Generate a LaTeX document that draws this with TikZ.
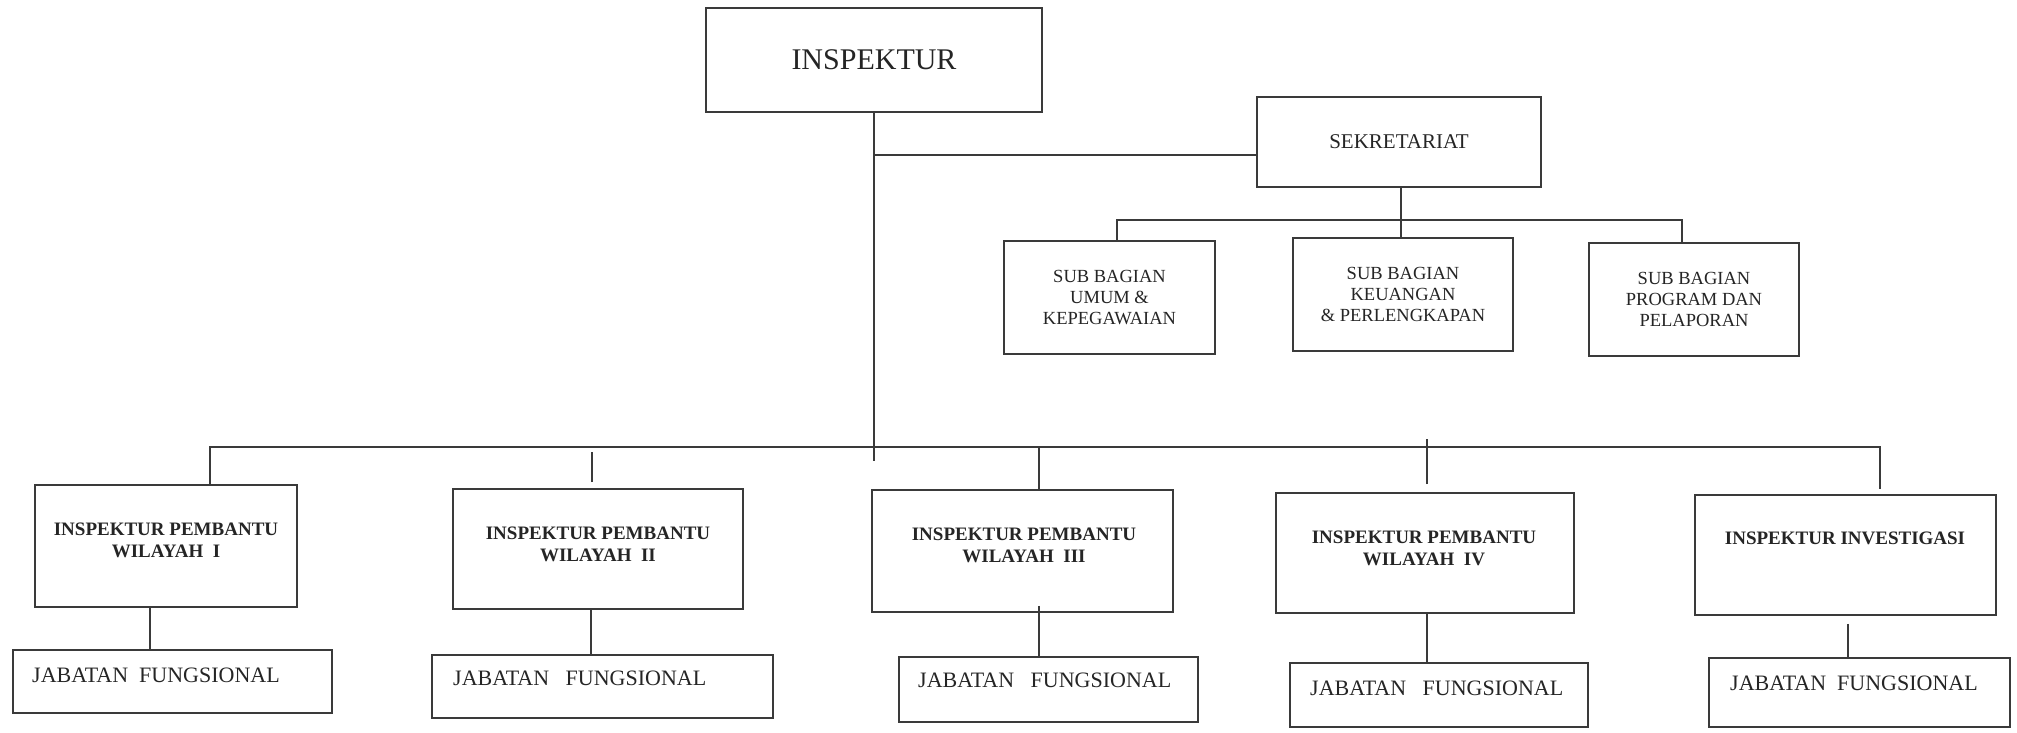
\documentclass[tikz,border=0pt]{standalone}
\usepackage{fontspec}
\setmainfont{Liberation Serif}
\definecolor{linec}{HTML}{3A3A3A}
\definecolor{txtc}{HTML}{252525}
\begin{document}
\begin{tikzpicture}[x=1pt,y=-1pt,
  box/.style={draw=linec, line width=1.8pt, rectangle, inner sep=0pt, text=txtc},
  conn/.style={draw=linec, line width=1.8pt},
  subtxt/.style={align=center, font=\fontsize{18.5}{21}\selectfont},
  btxt/.style={align=center, text=txtc, font=\bfseries\fontsize{19}{22}\selectfont},
  jtxt/.style={anchor=west, text=txtc, inner sep=0pt, font=\fontsize{22}{26}\selectfont}]
\useasboundingbox[fill=white] (0,0) rectangle (2017,732);

% top level
\node[box, minimum width=336pt, minimum height=104pt, font=\fontsize{30}{36}\selectfont] (insp) at (874,60) {INSPEKTUR};
\node[box, minimum width=284pt, minimum height=90pt, font=\fontsize{21}{25}\selectfont] (sek) at (1399,142) {SEKRETARIAT};

% sub bagian
\node[box, subtxt, minimum width=211pt, minimum height=113pt] (sub1) at (1109.5,297.5) {SUB BAGIAN\\UMUM \&\\KEPEGAWAIAN};
\node[box, subtxt, minimum width=220pt, minimum height=113pt] (sub2) at (1403,294.5) {SUB BAGIAN\\KEUANGAN\\\& PERLENGKAPAN};
\node[box, subtxt, minimum width=210pt, minimum height=113pt] (sub3) at (1694,299.5) {SUB BAGIAN\\PROGRAM DAN\\PELAPORAN};

% bottom boxes
\node[box, minimum width=262pt, minimum height=122pt] (b1) at (166,546) {};
\node[box, minimum width=290pt, minimum height=120pt] (b2) at (598,549) {};
\node[box, minimum width=301pt, minimum height=122pt] (b3) at (1022.5,551) {};
\node[box, minimum width=298pt, minimum height=120pt] (b4) at (1425,553) {};
\node[box, minimum width=301pt, minimum height=120pt] (b5) at (1845.5,555) {};

\node[btxt] (t1) at (166,540) {INSPEKTUR PEMBANTU\\WILAYAH\ \ I};
\node[btxt] (t2) at (598,544) {INSPEKTUR PEMBANTU\\WILAYAH\ \ II};
\node[btxt] (t3) at (1024,545) {INSPEKTUR PEMBANTU\\WILAYAH\ \ III};
\node[btxt] (t4) at (1424,548) {INSPEKTUR PEMBANTU\\WILAYAH\ \ IV};
\node[btxt] (t5) at (1845,538) {INSPEKTUR INVESTIGASI};

% jabatan fungsional
\node[box, minimum width=319pt, minimum height=63pt] (jf1) at (172.5,681.5) {};
\node[box, minimum width=341pt, minimum height=63pt] (jf2) at (602.5,686.5) {};
\node[box, minimum width=299pt, minimum height=65pt] (jf3) at (1048.5,689.5) {};
\node[box, minimum width=298pt, minimum height=64pt] (jf4) at (1439,695) {};
\node[box, minimum width=301pt, minimum height=69pt] (jf5) at (1859.5,692.5) {};

\node[jtxt] (j1) at (32,675) {JABATAN\ \ FUNGSIONAL};
\node[jtxt] (j2) at (453,678) {JABATAN\ \ \ FUNGSIONAL};
\node[jtxt] (j3) at (918,680) {JABATAN\ \ \ FUNGSIONAL};
\node[jtxt] (j4) at (1310,688) {JABATAN\ \ \ FUNGSIONAL};
\node[jtxt] (j5) at (1730,683) {JABATAN\ \ FUNGSIONAL};

% coordinates
\coordinate (mend) at (874,461);
\coordinate (sj) at (874,155);
\coordinate (sbar) at (1401,220);
\coordinate (bar) at (874,447);

% connectors top
\draw[conn] (insp.south) -- (mend);
\draw[conn] (sj) -- (sj -| sek.west);
\draw[conn] ([xshift=2pt]sek.south) -- ([xshift=-2pt]sub2.north);
\draw[conn] ([xshift=7.5pt]sub1.north) |- (sbar) -| ([xshift=-12pt]sub3.north);

% bottom bar and connectors
\draw[conn] ([xshift=44pt]b1.north) |- (bar) -| ([xshift=34.5pt,yshift=5pt]b5.north);
\draw[conn] ([xshift=-6pt,yshift=6pt]b2.north) -- ([xshift=-6pt,yshift=36pt]b2.north);
\draw[conn] ([xshift=16.5pt]b3.north) -- ([xshift=16.5pt]b3.north |- bar);
\draw[conn] ([xshift=2pt,yshift=8pt]b4.north) -- ([xshift=2pt,yshift=8pt]b4.north |- bar);

% lower connectors
\draw[conn] ([xshift=-16pt]b1.south) -- ([xshift=-16pt]b1.south |- jf1.north);
\draw[conn] ([xshift=-7pt]b2.south) -- ([xshift=-7pt]b2.south |- jf2.north);
\draw[conn] ([xshift=16.5pt,yshift=7pt]b3.south) -- ([xshift=16.5pt]b3.south |- jf3.north);
\draw[conn] ([xshift=2pt]b4.south) -- ([xshift=2pt]b4.south |- jf4.north);
\draw[conn] ([xshift=2.5pt,yshift=-8pt]b5.south) -- ([xshift=2.5pt]b5.south |- jf5.north);
\end{tikzpicture}
\end{document}
